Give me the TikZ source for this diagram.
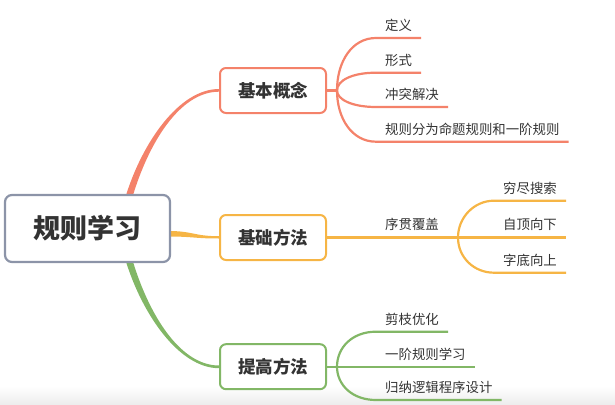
\documentclass[tikz,border=0pt]{standalone}
\usepackage{fontspec}
\setmainfont{Noto Sans CJK SC}
\usetikzlibrary{calc}
\pgfdeclarelayer{bg}
\pgfsetlayers{bg,main}
\definecolor{conceptc}{HTML}{F4826A}
\definecolor{basicc}{HTML}{F6B545}
\definecolor{advc}{HTML}{82B766}
\definecolor{rootc}{HTML}{8C94A8}
\definecolor{textc}{HTML}{333333}

\begin{document}
\begin{tikzpicture}[x=1pt, y=-1pt,
    rootbox/.style={draw=rootc, line width=2.2pt, rounded corners=7pt, fill=white,
        minimum width=165pt, minimum height=67pt, text=textc,
        font=\fontsize{27}{30}\selectfont\bfseries},
    topicbox/.style={line width=2pt, rounded corners=6pt, fill=white,
        minimum width=106pt, minimum height=45pt, text=textc,
        font=\fontsize{17.5}{20}\selectfont\bfseries},
    leaf/.style={inner xsep=9pt, inner ysep=5.5pt, text height=11pt, text depth=2pt,
        text=textc, font=\fontsize{13.4}{16}\selectfont},
    branch/.style={line width=2.2pt}]
    \useasboundingbox (0,0) rectangle (615,404);
    \shade[top color=white, bottom color=black!7] (0,386) rectangle (615,404);

    % main topics
    \node[rootbox] (root) at (87.5,228.5) {规则学习};
    \node[topicbox, draw=conceptc] (concept) at (273,90.5) {基本概念};
    \node[topicbox, draw=basicc] (basic) at (273,237.5) {基础方法};
    \node[topicbox, draw=advc] (adv) at (273,366.7) {提高方法};

    \begin{pgfonlayer}{bg}
        \fill[conceptc] ($(root.north)+(38,3)$) .. controls +(16.5,-54) and +(-40,0) .. ($(concept.west)+(0,-1.5)$)
            -- ($(concept.west)+(0,1.2)$) .. controls +(-40,0) and +(15.5,-52) .. ($(root.north)+(45,3)$) -- cycle;
        \fill[basicc] ($(root.east)+(-3,2.5)$) .. controls +(25,0) and +(-25,0) .. ($(basic.west)+(0,-1.3)$)
            -- ($(basic.west)+(0,1)$) .. controls +(-25,0) and +(25,0) .. ($(root.east)+(-3,8)$) -- cycle;
        \fill[advc] ($(root.south)+(38,-3)$) .. controls +(16.5,54) and +(-40,0) .. ($(adv.west)+(0,1.5)$)
            -- ($(adv.west)+(0,-1.2)$) .. controls +(-40,0) and +(15.5,52) .. ($(root.south)+(45,-3)$) -- cycle;
    \end{pgfonlayer}

    % basic concepts
    \coordinate (f1) at ($(concept.east)+(10,0)$);
    \node[leaf, anchor=south west] (def) at (376,38) {定义};
    \node[leaf, anchor=south west] (form) at (376,72.7) {形式};
    \node[leaf, anchor=south west] (conf) at (376,107) {冲突解决};
    \node[leaf, anchor=south west] (kind) at (376,141.7) {规则分为命题规则和一阶规则};
    \draw[branch, conceptc] (concept.east) -- (f1);
    \draw[branch, conceptc] (f1) .. controls +(0,-29) and +(-24,0) .. (def.south west) -- (def.south east);
    \draw[branch, conceptc] (f1) .. controls +(0,-10) and +(-24,0) .. (form.south west) -- (form.south east);
    \draw[branch, conceptc] (f1) .. controls +(0,9) and +(-24,0) .. (conf.south west) -- (conf.south east);
    \draw[branch, conceptc] (f1) .. controls +(0,28) and +(-24,0) .. (kind.south west) -- (kind.south east);

    % basic methods
    \node[leaf, anchor=south west] (seq) at (376,237.5) {序贯覆盖};
    \coordinate (f2) at ($(basic.east)+(131,0)$);
    \node[leaf, anchor=south east] (exh) at (566,200.7) {穷尽搜索};
    \node[leaf, anchor=south east] (topdown) at (566,237.5) {自顶向下};
    \node[leaf, anchor=south east] (bottomup) at (566,272.7) {字底向上};
    \draw[branch, basicc] (basic.east) -- (topdown.south east);
    \draw[branch, basicc] (f2) .. controls +(0,-20) and +(-20,0) .. (exh.south west) -- (exh.south east);
    \draw[branch, basicc] (f2) .. controls +(0,20) and +(-20,0) .. (bottomup.south west) -- (bottomup.south east);

    % advanced methods
    \coordinate (f3) at ($(adv.east)+(10,0)$);
    \node[leaf, anchor=south west] (prune) at (376,331.7) {剪枝优化};
    \node[leaf, anchor=south west] (fol) at (376,366.7) {一阶规则学习};
    \node[leaf, anchor=south west] (ilp) at (376,400) {归纳逻辑程序设计};
    \draw[branch, advc] (adv.east) -- (fol.south east);
    \draw[branch, advc] (f3) .. controls +(0,-19) and +(-24,0) .. (prune.south west) -- (prune.south east);
    \draw[branch, advc] (f3) .. controls +(0,18) and +(-24,0) .. (ilp.south west) -- (ilp.south east);
\end{tikzpicture}
\end{document}
